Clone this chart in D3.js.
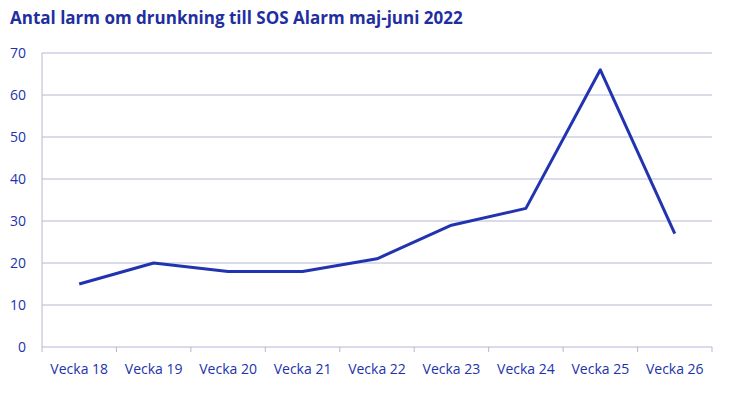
<!DOCTYPE html>
<html><head><meta charset="utf-8">
<script src="https://cdn.jsdelivr.net/npm/d3@7"></script>
<style>body{margin:0;background:#fff}svg{font-family:"Open Sans",sans-serif}</style>
</head><body><svg id="c" width="746" height="419"></svg>
<script>
const weeks = ['Vecka 18','Vecka 19','Vecka 20','Vecka 21','Vecka 22','Vecka 23','Vecka 24','Vecka 25','Vecka 26'];
const alarms = [15, 20, 18, 18, 21, 29, 33, 66, 27];
const yTicks = [0, 10, 20, 30, 40, 50, 60, 70];

const svg = d3.select('#c');
const plotLeft = 42, plotRight = 712, plotTop = 53, plotBottom = 347;
const blue = '#2233aa';

const x = d3.scaleBand().domain(weeks).range([plotLeft, plotRight]);
const y = d3.scaleLinear().domain([0, 70]).range([plotBottom, plotTop]);

svg.append('text').attr('x', 10).attr('y', 24)
  .attr('font-size', 17).attr('font-weight', 'bold').attr('fill', '#1f2f9f')
  .text('Antal larm om drunkning till SOS Alarm maj-juni 2022');

svg.selectAll('line.grid').data(yTicks).enter().append('line')
  .attr('x1', plotLeft).attr('x2', plotRight)
  .attr('y1', d => y(d)).attr('y2', d => y(d))
  .attr('stroke', '#b4b8d4').attr('stroke-width', 1);

svg.append('line').attr('x1', plotLeft).attr('x2', plotLeft).attr('y1', plotTop).attr('y2', plotBottom)
  .attr('stroke', '#b4b8d4');

svg.selectAll('line.tick').data(weeks.concat(['end'])).enter().append('line')
  .attr('x1', (d, i) => plotLeft + i * x.bandwidth()).attr('x2', (d, i) => plotLeft + i * x.bandwidth())
  .attr('y1', plotBottom).attr('y2', plotBottom + 5).attr('stroke', '#b4b8d4');

svg.selectAll('text.yl').data(yTicks).enter().append('text')
  .attr('x', 26).attr('y', d => y(d) + 5).attr('text-anchor', 'end')
  .attr('font-size', 14).attr('fill', blue).text(d => d);

svg.selectAll('text.xl').data(weeks).enter().append('text')
  .attr('x', d => x(d) + x.bandwidth() / 2).attr('y', 374).attr('text-anchor', 'middle')
  .attr('font-size', 14).attr('fill', blue).text(d => d);

const line = d3.line().x((d, i) => x(weeks[i]) + x.bandwidth() / 2).y(d => y(d));
svg.append('path').datum(alarms).attr('d', line)
  .attr('fill', 'none').attr('stroke', '#2233b0').attr('stroke-width', 3).attr('stroke-linejoin', 'round');
</script></body></html>
